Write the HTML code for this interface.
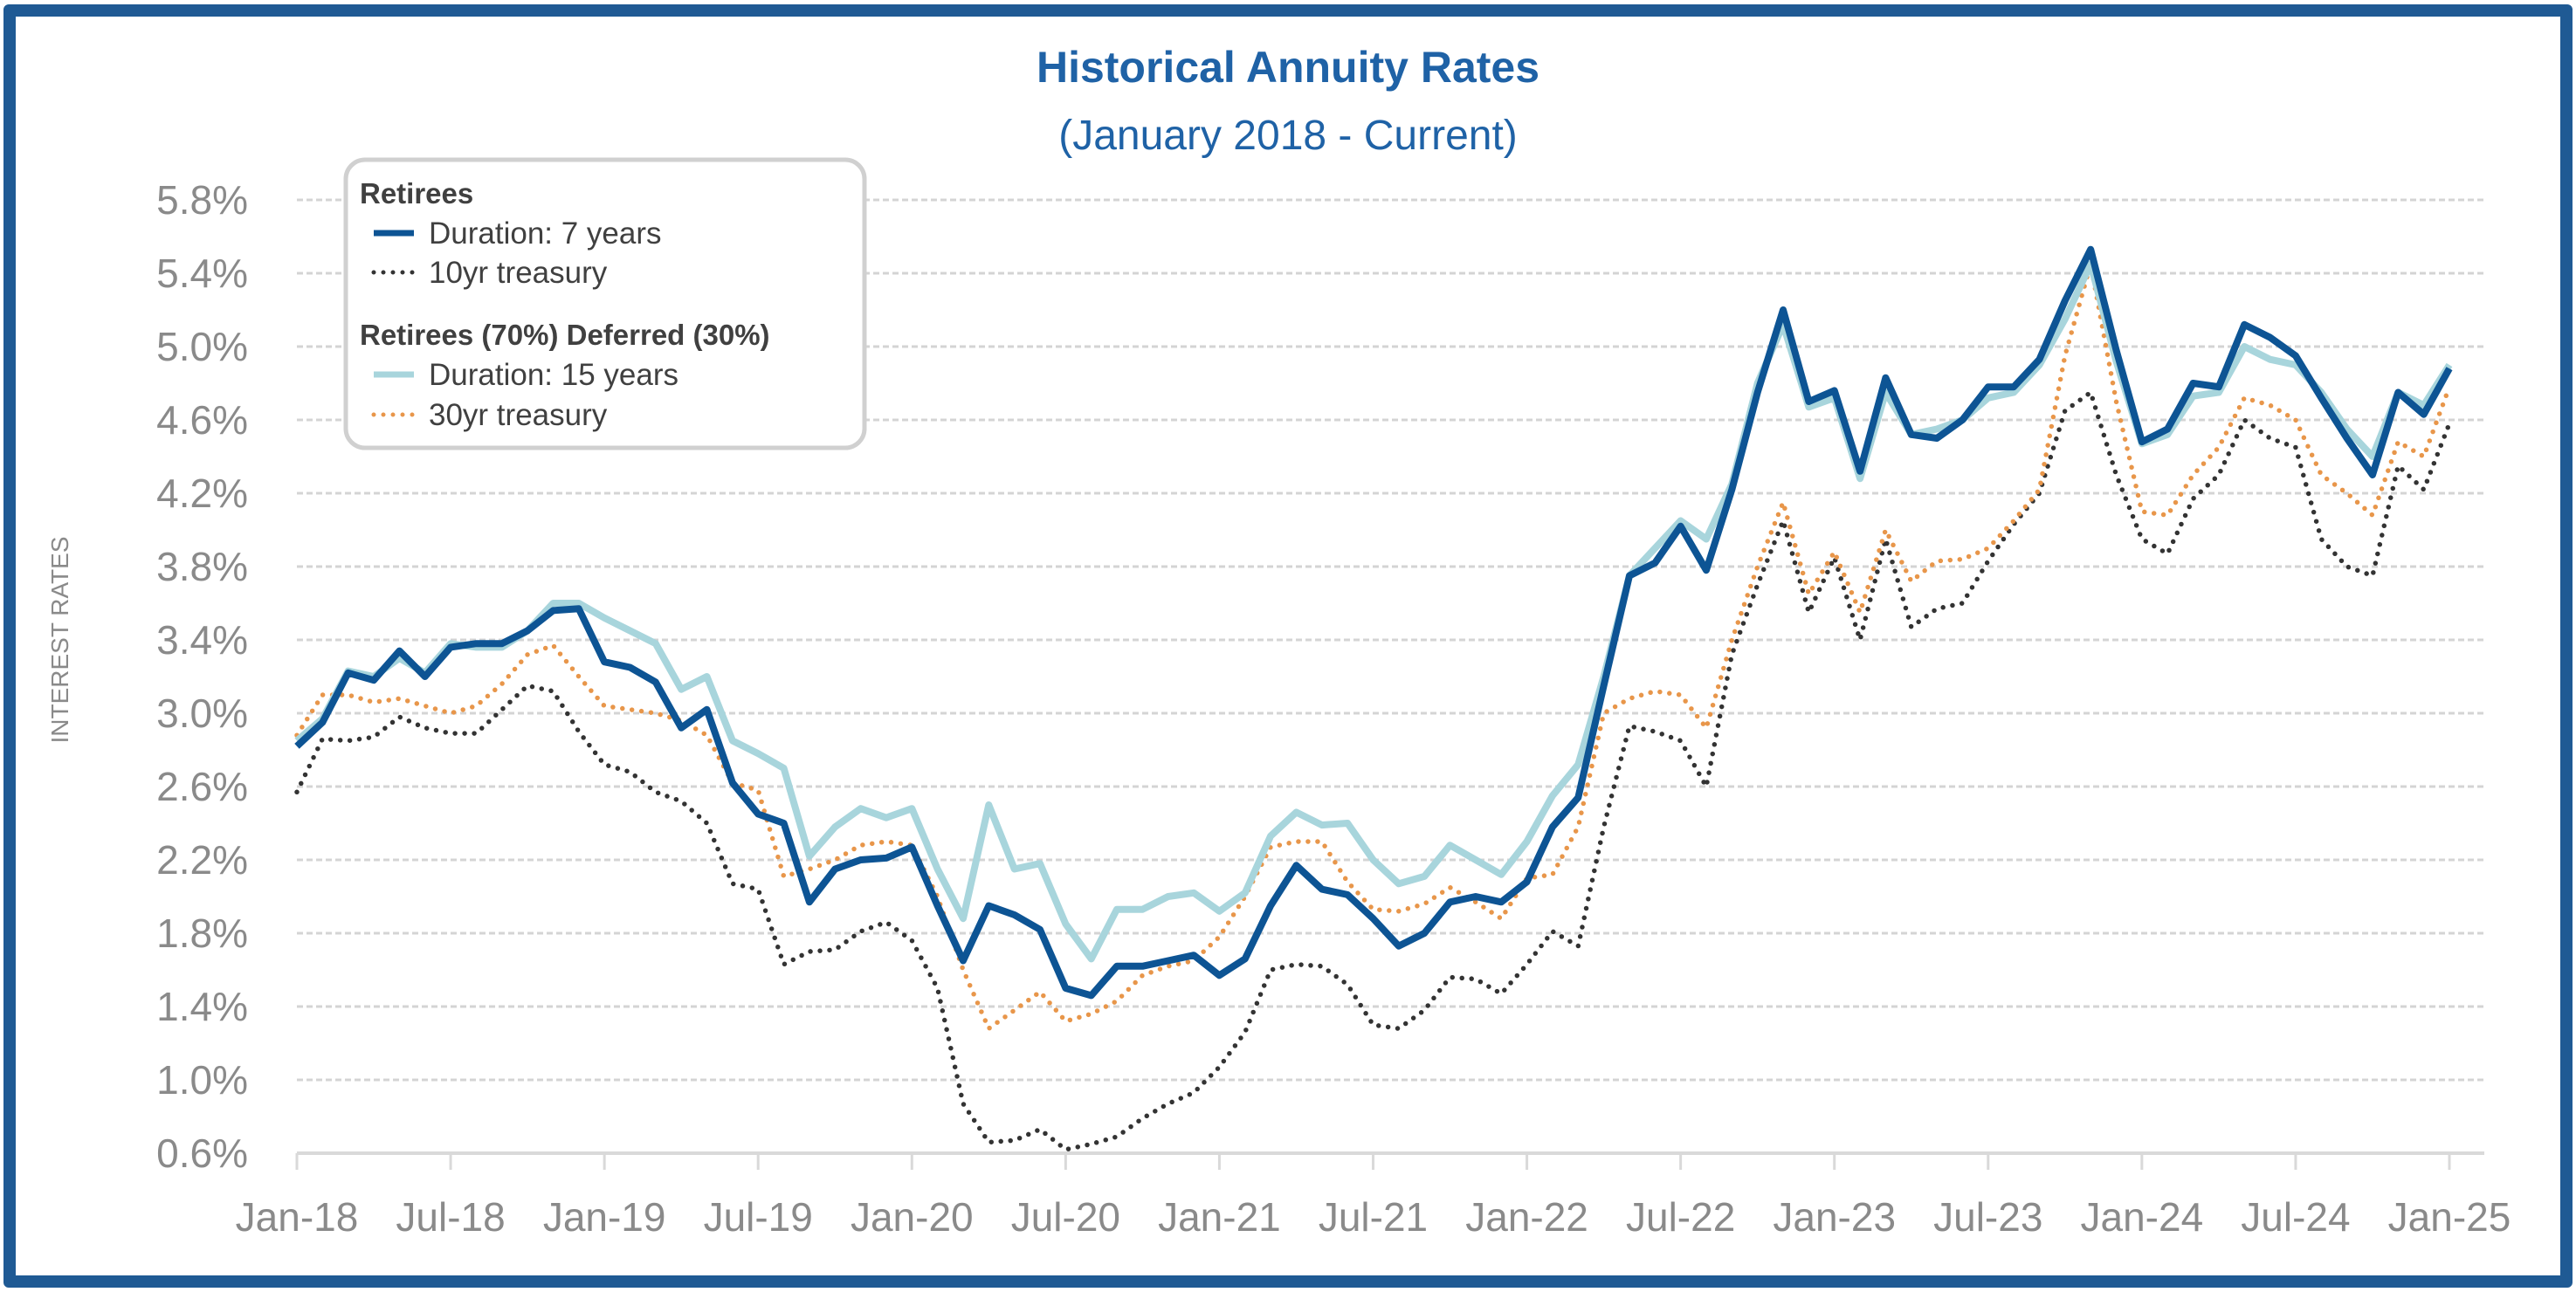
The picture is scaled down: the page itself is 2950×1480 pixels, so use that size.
<!DOCTYPE html>
<html><head><meta charset="utf-8"><style>
html,body{margin:0;padding:0;background:#fff;}
body{width:2950px;height:1480px;position:relative;overflow:hidden;font-family:"Liberation Sans",sans-serif;}
#frame{position:absolute;left:4px;top:5px;width:2914px;height:1442px;border:14px solid #1f5a94;border-radius:6px;}
#title{position:absolute;left:0;width:2950px;top:48px;text-align:center;color:#1f62a6;font-weight:bold;font-size:50px;}
#sub{position:absolute;left:0;width:2950px;top:128px;text-align:center;color:#1f62a6;font-size:48px;}
</style></head><body>
<div id="frame"></div>
<div id="title">Historical Annuity Rates</div>
<div id="sub">(January 2018 - Current)</div>
<svg id="chart" width="2950" height="1480" style="position:absolute;left:0;top:0"></svg>
<script>
const months = 85;
const xLabels = ["Jan-18","Jul-18","Jan-19","Jul-19","Jan-20","Jul-20","Jan-21","Jul-21","Jan-22","Jul-22","Jan-23","Jul-23","Jan-24","Jul-24","Jan-25"];
const yTicks = [0.6,1.0,1.4,1.8,2.2,2.6,3.0,3.4,3.8,4.2,4.6,5.0,5.4,5.8];
const dur7 = [2.82,2.95,3.22,3.18,3.34,3.20,3.36,3.38,3.38,3.45,3.56,3.57,3.28,3.25,3.17,2.92,3.02,2.62,2.45,2.40,1.97,2.15,2.20,2.21,2.27,1.95,1.65,1.95,1.90,1.82,1.50,1.46,1.62,1.62,1.65,1.68,1.57,1.66,1.95,2.17,2.04,2.01,1.88,1.73,1.80,1.97,2.00,1.97,2.08,2.38,2.54,3.15,3.75,3.82,4.02,3.78,4.22,4.75,5.20,4.70,4.76,4.32,4.83,4.52,4.50,4.60,4.78,4.78,4.93,5.25,5.53,4.98,4.48,4.55,4.80,4.78,5.12,5.05,4.95,4.72,4.50,4.30,4.75,4.63,4.88];
const dur15 = [2.85,2.97,3.23,3.20,3.30,3.22,3.38,3.36,3.36,3.45,3.60,3.60,3.52,3.45,3.38,3.13,3.20,2.85,2.78,2.70,2.22,2.38,2.48,2.43,2.48,2.15,1.88,2.50,2.15,2.18,1.85,1.66,1.93,1.93,2.00,2.02,1.92,2.02,2.33,2.46,2.39,2.40,2.20,2.07,2.11,2.28,2.20,2.12,2.30,2.55,2.72,3.20,3.75,3.90,4.05,3.95,4.25,4.80,5.12,4.67,4.72,4.28,4.75,4.52,4.55,4.60,4.72,4.75,4.90,5.15,5.45,4.92,4.47,4.52,4.73,4.75,5.00,4.93,4.90,4.75,4.55,4.40,4.75,4.68,4.90];
const t10 = [2.57,2.86,2.85,2.87,2.98,2.92,2.89,2.89,3.02,3.15,3.12,2.90,2.72,2.68,2.57,2.52,2.40,2.07,2.04,1.63,1.70,1.71,1.81,1.86,1.76,1.50,0.87,0.66,0.67,0.73,0.62,0.65,0.69,0.79,0.87,0.93,1.07,1.26,1.60,1.63,1.62,1.52,1.30,1.28,1.38,1.56,1.55,1.47,1.63,1.81,1.73,2.38,2.93,2.90,2.85,2.60,3.32,3.70,4.05,3.55,3.85,3.40,3.95,3.47,3.57,3.60,3.83,4.03,4.20,4.65,4.75,4.30,3.95,3.87,4.17,4.30,4.60,4.50,4.45,3.95,3.80,3.75,4.35,4.22,4.58];
const t30 = [2.88,3.10,3.10,3.06,3.08,3.04,3.00,3.04,3.16,3.32,3.37,3.20,3.04,3.02,3.00,2.96,2.88,2.62,2.58,2.11,2.15,2.20,2.28,2.30,2.28,2.00,1.60,1.28,1.38,1.48,1.32,1.36,1.43,1.57,1.62,1.65,1.78,2.00,2.27,2.30,2.30,2.08,1.93,1.92,1.96,2.05,1.97,1.88,2.10,2.12,2.38,3.00,3.08,3.12,3.10,2.92,3.40,3.80,4.15,3.65,3.88,3.55,4.00,3.72,3.83,3.84,3.90,4.05,4.22,4.95,5.45,4.70,4.10,4.08,4.30,4.45,4.72,4.68,4.60,4.30,4.20,4.08,4.48,4.40,4.78];

const NS="http://www.w3.org/2000/svg";
const svg=document.getElementById('chart');
const X0=340, X1=2805, Y0=1321, Y1=229;
const xs=i=>X0+(X1-X0)*i/(months-1);
const ys=v=>Y0-(Y0-Y1)*(v-0.6)/(5.8-0.6);
function mk(tag,attrs){const e=document.createElementNS(NS,tag);for(const k in attrs)e.setAttribute(k,attrs[k]);svg.appendChild(e);return e;}

yTicks.forEach((v,i)=>{
  if(i>0){const g=mk('line',{x1:X0,x2:2845,y1:ys(v),y2:ys(v),stroke:'#d4d4d4','stroke-width':3,'stroke-dasharray':'7 4'});
  
  }
  const t=mk('text',{x:284,y:ys(v)+16,'text-anchor':'end','font-size':46,fill:'#8a8a8a','font-family':'Liberation Sans, sans-serif'});
  t.textContent=v.toFixed(1)+'%';
  
  
});
const base=mk('line',{x1:X0,x2:2845,y1:Y0,y2:Y0,stroke:'#d9d9d9','stroke-width':4});


xLabels.forEach((lab,i)=>{
  const x=xs(i*6);
  const tk=mk('line',{x1:x,x2:x,y1:Y0,y2:Y0+19,stroke:'#d9d9d9','stroke-width':3});
  
  
  const t=mk('text',{x:x,y:1410,'text-anchor':'middle','font-size':46,fill:'#8a8a8a','font-family':'Liberation Sans, sans-serif'});
  t.textContent=lab;
  
  
});
const yt=mk('text',{x:0,y:0,transform:'translate(78,733) rotate(-90)','text-anchor':'middle','font-size':28,fill:'#8a8a8a','font-family':'Liberation Sans, sans-serif'});
yt.textContent='INTEREST RATES';



function pts(arr){return arr.map((v,i)=>xs(i).toFixed(1)+','+ys(v).toFixed(1)).join(' ');}
const s10=mk('polyline',{points:pts(t10),fill:'none',stroke:'#333','stroke-width':5.5,'stroke-linecap':'round','stroke-dasharray':'0 11'});


const s30=mk('polyline',{points:pts(t30),fill:'none',stroke:'#e8964a','stroke-width':5.5,'stroke-linecap':'round','stroke-dasharray':'0 11'});


const s15=mk('polyline',{points:pts(dur15),fill:'none',stroke:'#a8d5dc','stroke-width':8,'stroke-linejoin':'round'});


const s7=mk('polyline',{points:pts(dur7),fill:'none',stroke:'#0d5494','stroke-width':8,'stroke-linejoin':'round'});



const lg=mk('rect',{x:396,y:183,width:594,height:330,rx:22,fill:'#fff',stroke:'#d0d0d0','stroke-width':5});


const leg=[
 {t:'Retirees',y:233,b:true},
 {t:'Duration: 7 years',y:279,s:'solid',c:'#0d5494'},
 {t:'10yr treasury',y:324,s:'dot',c:'#333'},
 {t:'Retirees (70%) Deferred (30%)',y:395,b:true},
 {t:'Duration: 15 years',y:441,s:'solid',c:'#a8d5dc'},
 {t:'30yr treasury',y:487,s:'dot',c:'#e8964a'}];
leg.forEach(l=>{
  const t=mk('text',{x:l.b?412:491,y:l.y,'font-size':l.b?33:35,'font-weight':l.b?'bold':'normal',fill:'#404040','font-family':'Liberation Sans, sans-serif'});
  t.textContent=l.t;
  
  
  if(l.s){const ln=mk('line',{x1:428,x2:474,y1:l.y-12,y2:l.y-12,stroke:l.c,'stroke-width':l.s==='solid'?7:5,'stroke-linecap':l.s==='dot'?'round':'butt','stroke-dasharray':l.s==='dot'?'0 11':'none'});
  
  }
});
</script>
</body></html>
